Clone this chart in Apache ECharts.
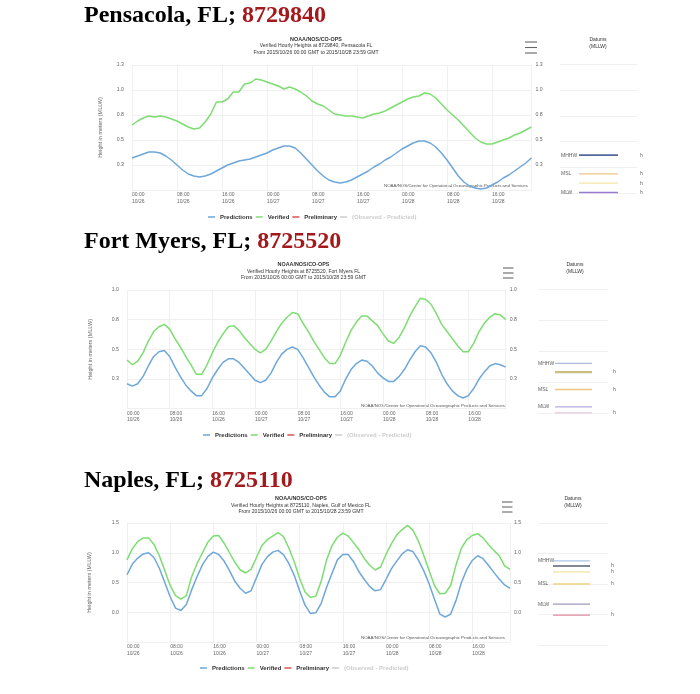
<!DOCTYPE html>
<html><head><meta charset="utf-8">
<script src="https://cdn.jsdelivr.net/npm/echarts@6/dist/echarts.min.js"></script>
<style>html,body{margin:0;padding:0;background:#fff}#c{width:700px;height:694px}</style>
</head><body><div id="c"></div>
<script>
// ---------- DATA ----------
const dayLabels = ['10/26', '10/27', '10/28'];
const legendNames = ['Predictions', 'Verified', 'Preliminary', '(Observed - Predicted)'];
const stationTitles = ['Pensacola, FL; ', 'Fort Myers, FL; ', 'Naples, FL; '];
const stationIds = ['8729840', '8725520', '8725110'];
const stationNames = ['Pensacola FL', 'Fort Myers FL', 'Naples, Gulf of Mexico FL'];
const periodText = 'From 2015/10/26 00:00 GMT to 2015/10/28 23:59 GMT';

// hourly values, 2015/10/26 00:00 .. 10/28 23:00 GMT (meters, MLLW)
const pensacolaPredictions = [0.32,0.34,0.36,0.38,0.38,0.37,0.34,0.30,0.25,0.20, 0.16,0.14,0.13,0.14,0.16,0.19,0.22,0.25,0.27,0.29, 0.30,0.31,0.33,0.35,0.37,0.40,0.42,0.44,0.44,0.42, 0.37,0.31,0.25,0.19,0.14,0.10,0.08,0.07,0.08,0.10, 0.13,0.16,0.19,0.23,0.26,0.30,0.33,0.37,0.41,0.44, 0.47,0.49,0.49,0.47,0.43,0.37,0.30,0.22,0.14,0.08, 0.04,0.02,0.01,0.02,0.05,0.08,0.12,0.15,0.19,0.23, 0.27,0.32];
const pensacolaVerified = [0.65,0.69,0.72,0.74,0.73,0.74,0.73,0.71,0.69,0.66, 0.63,0.61,0.62,0.68,0.76,0.88,0.88,0.91,0.98,0.98, 1.06,1.07,1.11,1.10,1.08,1.06,1.04,1.01,1.03,1.01, 0.98,0.94,0.89,0.86,0.84,0.80,0.76,0.75,0.74,0.74, 0.73,0.72,0.74,0.76,0.77,0.79,0.82,0.85,0.88,0.91, 0.93,0.94,0.97,0.96,0.92,0.86,0.80,0.75,0.70,0.64, 0.58,0.52,0.48,0.46,0.46,0.48,0.50,0.52,0.55,0.57, 0.60,0.63];
const fortMyersPredictions = [0.21,0.19,0.21,0.27,0.36,0.44,0.48,0.49,0.44,0.35, 0.27,0.20,0.15,0.11,0.11,0.17,0.26,0.33,0.39,0.42, 0.42,0.39,0.34,0.29,0.24,0.22,0.24,0.30,0.39,0.46, 0.50,0.52,0.50,0.43,0.35,0.27,0.20,0.14,0.10,0.10, 0.15,0.25,0.33,0.38,0.41,0.40,0.36,0.30,0.26,0.23, 0.23,0.27,0.33,0.41,0.48,0.53,0.52,0.47,0.39,0.29, 0.21,0.15,0.11,0.09,0.11,0.17,0.25,0.31,0.36,0.38, 0.37,0.35];
const fortMyersVerified = [0.41,0.37,0.40,0.47,0.57,0.65,0.69,0.71,0.67,0.59, 0.52,0.44,0.37,0.29,0.29,0.37,0.47,0.56,0.63,0.69, 0.70,0.66,0.60,0.55,0.50,0.47,0.50,0.57,0.65,0.72, 0.77,0.81,0.80,0.72,0.65,0.57,0.50,0.43,0.38,0.38, 0.45,0.56,0.66,0.73,0.78,0.78,0.74,0.70,0.63,0.57, 0.55,0.60,0.68,0.78,0.86,0.93,0.92,0.88,0.80,0.71, 0.65,0.59,0.53,0.48,0.48,0.55,0.65,0.72,0.77,0.80, 0.79,0.75];
const naplesPredictions = [0.63,0.81,0.91,0.98,1.00,0.92,0.74,0.50,0.26,0.07, 0.03,0.13,0.38,0.60,0.80,0.94,1.01,0.97,0.86,0.70, 0.52,0.40,0.32,0.36,0.58,0.80,0.93,1.01,1.04,0.97, 0.82,0.62,0.36,0.12,-0.02,-0.01,0.15,0.42,0.65,0.88, 0.97,0.97,0.85,0.68,0.55,0.43,0.36,0.38,0.55,0.73, 0.86,0.98,1.05,1.02,0.88,0.70,0.48,0.22,-0.03,-0.08, -0.03,0.20,0.50,0.72,0.87,0.95,0.90,0.79,0.67,0.56, 0.46,0.40];
const naplesVerified = [0.88,1.07,1.19,1.25,1.25,1.14,0.95,0.70,0.45,0.28, 0.22,0.28,0.60,0.82,1.00,1.18,1.28,1.29,1.16,1.00, 0.84,0.71,0.66,0.72,0.92,1.12,1.22,1.28,1.34,1.27, 1.08,0.85,0.57,0.34,0.25,0.27,0.52,0.88,1.12,1.26, 1.33,1.28,1.17,1.05,0.90,0.79,0.71,0.76,0.97,1.15, 1.30,1.39,1.46,1.38,1.20,0.96,0.70,0.45,0.31,0.32, 0.45,0.80,1.08,1.22,1.29,1.32,1.25,1.14,1.04,0.95, 0.78,0.72];

// datums panels (meters, MLLW)
const pensacolaDatumNames = ['MHHW', 'MSL', '', 'MLW'];
const pensacolaDatumValues = [0.37, 0.19, 0.10, 0.01];
const pensacolaDatumMarks = [0, 1, 2, 3];
const fortMyersDatumNames = ['MHHW', '', 'MSL', 'MLW', ''];
const fortMyersDatumValues = [0.40, 0.33, 0.19, 0.05, 0.00];
const fortMyersDatumMarks = [1, 2, 4];
const naplesDatumNames = ['MHHW', '', '', 'MSL', 'MLW', ''];
const naplesDatumValues = [0.88, 0.795, 0.70, 0.50, 0.17, -0.01];
const naplesDatumMarks = [1, 2, 3, 5];

// ---------- STYLE / LAYOUT ----------
const FONT = 'Liberation Sans';
const COL = { pred: '#6ea7da', ver: '#7ddd72', prelim: '#d9534f', obs: '#cccccc' };
const datumColors = [
  ['#53689f', '#f1c68a', '#f5e6a6', '#9a7bd2'],
  ['#aebbdc', '#c9bf82', '#f0c47e', '#b3acdf', '#d8a9c9'],
  ['#a9c5e6', '#565f72', '#f2e2a0', '#efd37f', '#9d98b8', '#e08aa0']
];
const datumWidths = [[1.6,1.3,1.3,1.6],[1.2,2.2,1.4,1.2,1.2],[1.2,1.6,1.3,1.4,1.2,1.3]];

const panels = [
  { pred: pensacolaPredictions, ver: pensacolaVerified, dn: pensacolaDatumNames, dv: pensacolaDatumValues, dm: pensacolaDatumMarks,
    grid: {left:132, top:65, width:399.4, height:125}, y:[0,1.25,0.25],
    dgrid: {left:560, top:64, width:77, height:129.5}, lineX:[0.247,0.753], markDist:3, nameDist:1,
    title:{x:84,y:16}, head:{x:316,y:[39.3,46,52.7]}, menu:{x:525,w:12,y:[42,47.5,53]},
    credit:{x:528,y:186}, legend:{left:208,top:214}, dhead:{x:598,y:[40,47]}, nameGap:29 },
  { pred: fortMyersPredictions, ver: fortMyersVerified, dn: fortMyersDatumNames, dv: fortMyersDatumValues, dm: fortMyersDatumMarks,
    grid: {left:127, top:290, width:378.7, height:118.7}, y:[0,1,0.25],
    dgrid: {left:538, top:289, width:70, height:124}, lineX:[0.243,0.771], markDist:5, nameDist:0,
    title:{x:84,y:242}, head:{x:303.5,y:[265,271.5,278]}, menu:{x:503,w:10.5,y:[268,273,278]},
    credit:{x:505,y:405.5}, legend:{left:203,top:432}, dhead:{x:575,y:[265,272]}, nameGap:34 },
  { pred: naplesPredictions, ver: naplesVerified, dn: naplesDatumNames, dv: naplesDatumValues, dm: naplesDatumMarks,
    grid: {left:127, top:523, width:383, height:119}, y:[-0.5,1.5,0.5],
    dgrid: {left:538, top:523, width:70, height:122}, lineX:[0.214,0.743], markDist:3, nameDist:0,
    title:{x:84,y:481}, head:{x:301,y:[499,505.5,512]}, menu:{x:502,w:10.5,y:[502,507,512]},
    credit:{x:505,y:638}, legend:{left:200,top:665}, dhead:{x:573,y:[499,505.5]}, nameGap:35 }
];

function pad(n){ return (n < 10 ? '0' : '') + n; }
function xLabel(v){
  if (v % 8 !== 0) return '';
  return pad(v % 24) + ':00\n' + dayLabels[Math.floor(v / 24)];
}
function yLabel(v){ return (Math.round(v * 10 + 1e-6) / 10).toFixed(1); }

const grid = [], xAxis = [], yAxis = [], series = [], legend = [], graphic = [];
const N = panels.length;

// main grids 0..N-1
panels.forEach((p, i) => {
  grid.push(Object.assign({ outerBoundsMode: 'none', containLabel: false }, p.grid));
  xAxis.push({ type:'value', gridIndex:i, min:0, max:71, interval:8,
    axisLine:{show:false}, axisTick:{show:false},
    splitLine:{show:true, lineStyle:{color:'#ececec', width:0.8}},
    axisLabel:{ formatter:xLabel, showMaxLabel:false, align:'left', margin:1.5,
      fontSize:5, lineHeight:6.6, color:'#666', fontFamily:FONT } });
});
// left y axes 0..N-1
panels.forEach((p, i) => {
  yAxis.push({ type:'value', gridIndex:i, position:'left', min:p.y[0], max:p.y[1], interval:p.y[2],
    name:'Height in meters (MLLW)', nameLocation:'middle', nameGap:p.nameGap, nameRotate:90,
    nameTextStyle:{fontSize:5.5, color:'#666', fontFamily:FONT},
    axisLine:{show:false}, axisTick:{show:false},
    splitLine:{show:true, lineStyle:{color:'#ececec', width:0.8}},
    axisLabel:{ formatter:yLabel, showMinLabel:false, margin:8, fontSize:5.2, color:'#666', fontFamily:FONT } });
});
// right y axes N..2N-1
panels.forEach((p, i) => {
  yAxis.push({ type:'value', gridIndex:i, position:'right', min:p.y[0], max:p.y[1], interval:p.y[2],
    axisLine:{show:false}, axisTick:{show:false}, splitLine:{show:false},
    axisLabel:{ formatter:yLabel, showMinLabel:false, margin:4, fontSize:5.2, color:'#666', fontFamily:FONT } });
});
// datum grids N..2N-1 ; datum x axes N..2N-1 ; datum y axes 2N..3N-1
panels.forEach((p, i) => {
  grid.push(Object.assign({ outerBoundsMode: 'none', containLabel: false }, p.dgrid));
  xAxis.push({ type:'value', gridIndex:N + i, min:0, max:1,
    axisLine:{show:false}, axisTick:{show:false}, axisLabel:{show:false}, splitLine:{show:false} });
  yAxis.push({ type:'value', gridIndex:N + i, min:p.y[0], max:p.y[1], interval:p.y[2],
    axisLine:{show:false}, axisTick:{show:false}, axisLabel:{show:false},
    splitLine:{show:true, lineStyle:{color:'#ececec', width:0.8}} });
});

panels.forEach((p, i) => {
  const dx = N + i, dy = 2 * N + i;
  series.push({ name:'Predictions', type:'line', xAxisIndex:i, yAxisIndex:i, showSymbol:false,
    lineStyle:{color:COL.pred, width:1.5}, itemStyle:{color:COL.pred},
    data: p.pred.map((v, h) => [h, v]) });
  series.push({ name:'Verified', type:'line', xAxisIndex:i, yAxisIndex:i, showSymbol:false,
    lineStyle:{color:COL.ver, width:1.5}, itemStyle:{color:COL.ver},
    data: p.ver.map((v, h) => [h, v]) });
  p.dv.forEach((v, k) => {
    series.push({ name:'datum' + i + '_' + k, type:'line', xAxisIndex:dx, yAxisIndex:dy,
      symbol:'none', silent:true,
      lineStyle:{color:datumColors[i][k], width:datumWidths[i][k]},
      data:[[p.lineX[0], v], [p.lineX[1], v]] });
  });
  series.push({ name:'datumNames' + i, type:'scatter', xAxisIndex:dx, yAxisIndex:dy,
    symbolSize:0, silent:true,
    label:{show:true, position:'right', distance:p.nameDist, formatter:q => q.data[2],
      fontSize:5, color:'#333', fontFamily:FONT},
    data: p.dn.map((n, k) => n ? [0, p.dv[k], n] : null).filter(Boolean) });
  series.push({ name:'datumMarks' + i, type:'scatter', xAxisIndex:dx, yAxisIndex:dy,
    symbolSize:0, silent:true,
    label:{show:true, position:'right', distance:p.markDist, formatter:'h',
      fontSize:5, color:'#333', fontFamily:FONT},
    data: p.dm.map(k => [1, p.dv[k]]) });

  legend.push({ data:legendNames, left:p.legend.left, top:p.legend.top, orient:'horizontal', padding:0,
    icon:'rect', itemWidth:7, itemHeight:1.5, itemGap:3, inactiveColor:'#cccccc',
    selected:{'(Observed - Predicted)': false},
    textStyle:{fontSize:6, fontWeight:'bold', color:'#333', fontFamily:FONT} });

  graphic.push({ type:'text', x:p.title.x, y:p.title.y, silent:true,
    style:{ text:'{a|' + stationTitles[i] + '}{b|' + stationIds[i] + '}', verticalAlign:'middle', align:'left',
      fontSize:24, fontFamily:'Liberation Serif', fontWeight:'bold',
      rich:{ a:{fontSize:24, fontFamily:'Liberation Serif', fontWeight:'bold', fill:'#000'},
             b:{fontSize:24, fontFamily:'Liberation Serif', fontWeight:'bold', fill:'#a3191c'} } } });
  const heads = ['NOAA/NOS/CO-OPS', 'Verified Hourly Heights at ' + stationIds[i] + ', ' + stationNames[i], periodText];
  heads.forEach((t, k) => graphic.push({ type:'text', x:p.head.x, y:p.head.y[k], silent:true,
    style:{ text:t, align:'center', verticalAlign:'middle', fontSize: k === 0 ? 5.4 : 5.1,
      fontWeight: k === 0 ? 'bold' : 'normal', fontFamily:FONT, fill:'#333' } }));
  p.menu.y.forEach(yy => graphic.push({ type:'line', silent:true,
    shape:{x1:p.menu.x, y1:yy, x2:p.menu.x + p.menu.w, y2:yy}, style:{stroke:'#666', lineWidth:1.1} }));
  graphic.push({ type:'text', x:p.credit.x, y:p.credit.y, silent:true,
    style:{ text:'NOAA/NOS/Center for Operational Oceanographic Products and Services', align:'right',
      verticalAlign:'middle', fontSize:4.4, fontFamily:FONT, fill:'#555' } });
  ['Datums', '(MLLW)'].forEach((t, k) => graphic.push({ type:'text', x:p.dhead.x, y:p.dhead.y[k], silent:true,
    style:{ text:t, align:'center', verticalAlign:'middle', fontSize:5, fontFamily:FONT, fill:'#333' } }));
});

// legend-only series
series.push({ name:'Preliminary', type:'line', xAxisIndex:0, yAxisIndex:0, data:[], lineStyle:{color:COL.prelim}, itemStyle:{color:COL.prelim} });
series.push({ name:'(Observed - Predicted)', type:'line', xAxisIndex:0, yAxisIndex:0, data:[], lineStyle:{color:COL.obs}, itemStyle:{color:COL.obs} });

const chart = echarts.init(document.getElementById('c'), null, {renderer:'canvas'});
chart.setOption({ backgroundColor:'#fff', animation:false, grid, xAxis, yAxis, series, legend, graphic });
</script>
</body></html>
